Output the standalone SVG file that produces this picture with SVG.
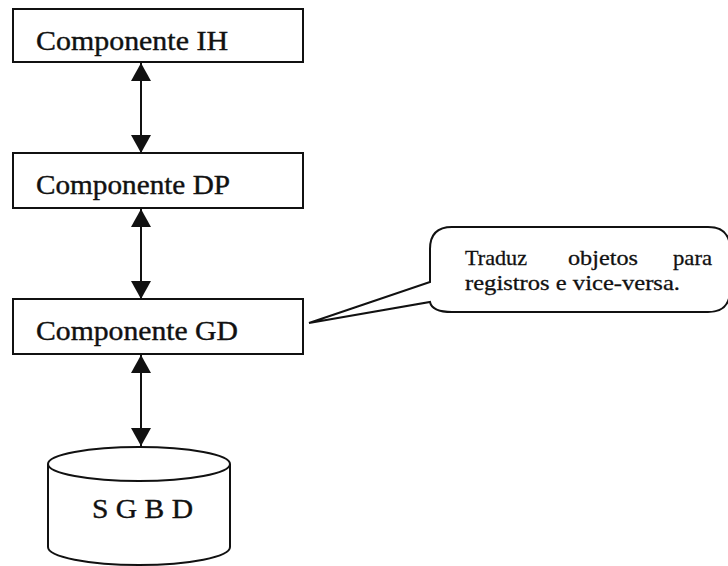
<svg xmlns="http://www.w3.org/2000/svg" width="728" height="566" viewBox="0 0 728 566">
  <style>
    .box { fill: #ffffff; stroke: #111111; stroke-width: 2; }
    .label { font-family: "Liberation Serif", "Times New Roman", serif; font-size: 28px; fill: #111111; stroke: #111111; stroke-width: 0.4; }
    .note { font-family: "Liberation Serif", "Times New Roman", serif; font-size: 22px; fill: #111111; stroke: #111111; stroke-width: 0.3; }
    .link { stroke: #111111; stroke-width: 2; fill: none; marker-start: url(#ah); marker-end: url(#ah); }
  </style>
  <defs>
    <marker id="ah" viewBox="0 0 18 20" refX="18" refY="10" markerWidth="18" markerHeight="20" markerUnits="userSpaceOnUse" orient="auto-start-reverse">
      <path d="M0,0 L18,10 L0,20 Z" fill="#111111"/>
    </marker>
  </defs>
  <rect width="728" height="566" fill="#ffffff"/>

  <g id="connectors">
    <line class="link" x1="141" y1="63" x2="141" y2="153"/>
    <line class="link" x1="141" y1="209" x2="141" y2="299"/>
    <line class="link" x1="141" y1="355" x2="141" y2="446"/>
  </g>

  <g id="componente-ih">
    <rect class="box" x="13" y="9" width="290" height="53"/>
    <text class="label" x="36" y="50" textLength="192" lengthAdjust="spacingAndGlyphs">Componente IH</text>
  </g>

  <g id="componente-dp">
    <rect class="box" x="13" y="153" width="290" height="55"/>
    <text class="label" x="36" y="194" textLength="194" lengthAdjust="spacingAndGlyphs">Componente DP</text>
  </g>

  <g id="componente-gd">
    <rect class="box" x="13" y="299" width="290" height="55"/>
    <text class="label" x="36" y="340" textLength="202" lengthAdjust="spacingAndGlyphs">Componente GD</text>
  </g>

  <g id="sgbd">
    <path class="box" d="M48,464 V547 A91,18 0 0 0 230,547 V464"/>
    <ellipse class="box" cx="139" cy="464" rx="91" ry="17"/>
    <text class="label" x="92" y="518" font-size="29" textLength="101" lengthAdjust="spacingAndGlyphs">S G B D</text>
  </g>

  <g id="nota-gd">
    <path class="box" d="M452,227 H708 Q730,227 730,249 V290 Q730,312 708,312 H452 Q432,312 430,302 L309,323 L430,282 V249 Q430,227 452,227 Z"/>
    <text class="note" y="265">
      <tspan x="465" textLength="62" lengthAdjust="spacingAndGlyphs">Traduz</tspan>
      <tspan x="568" textLength="70" lengthAdjust="spacingAndGlyphs">objetos</tspan>
      <tspan x="673" textLength="39" lengthAdjust="spacingAndGlyphs">para</tspan>
    </text>
    <text class="note" x="465" y="290" textLength="215" lengthAdjust="spacingAndGlyphs">registros e vice-versa.</text>
  </g>
</svg>
